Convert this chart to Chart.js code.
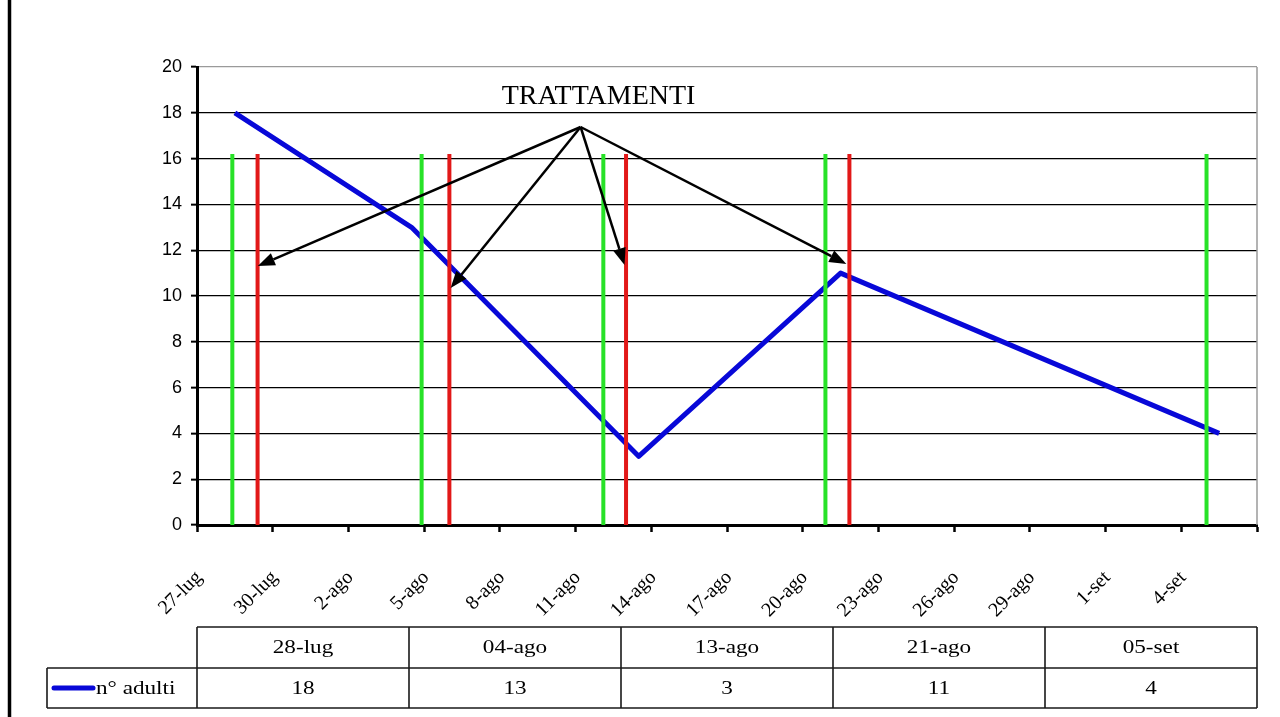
<!DOCTYPE html>
<html>
<head>
<meta charset="utf-8">
<title>n° adulti</title>
<script src="https://cdn.jsdelivr.net/npm/chart.js@4.4.0/dist/chart.umd.min.js"></script>
<style>
  html, body { margin: 0; padding: 0; background: #ffffff; }
  #wrap { width: 1280px; height: 717px; position: relative; }
  canvas { display: block; }
</style>
</head>
<body>
<div id="wrap"><canvas id="c" width="1280" height="717"></canvas></div>
<script>
// Sampling dates and adult counts
const dateLabels = ['28-lug', '04-ago', '13-ago', '21-ago', '05-set'];
const adulti = [18, 13, 3, 11, 4];
const seriesName = 'n° adulti';

// Date axis labels, one every 3 days starting 27-lug (last tick unlabeled)
const tickLabels = ['27-lug', '30-lug', '2-ago', '5-ago', '8-ago', '11-ago', '14-ago',
  '17-ago', '20-ago', '23-ago', '26-ago', '29-ago', '1-set', '4-set', ''];

// Treatments, in days after 27-lug
const trattVerde = [1.4, 8.9, 16.1, 24.9, 40.0];
const trattRosso = [2.4, 10.0, 17.0, 25.85];
const trattTop = 16.2;

// "TRATTAMENTI" note and its arrows (axis units: days, n° adulti)
const noteText = 'TRATTAMENTI';
const notePos = [15.91, 18.69];
const arrowFrom = [15.2, 17.38];
const arrowTo = [[2.41, 11.31], [10.05, 10.35], [16.94, 11.35], [25.73, 11.4]];

// day offset of a "dd-mmm" label from 27-lug
const monthStart = { lug: -27, ago: 4, set: 35 };
function dayOf(label) {
  const parts = label.split('-');
  return parseInt(parts[0], 10) + monthStart[parts[1]];
}

const BLUE = '#0808d8';
const GREEN = '#28e228';
const RED = '#e21818';

function verticalSegments(days) {
  const pts = [];
  days.forEach(d => {
    pts.push({ x: d, y: 0 });
    pts.push({ x: d, y: trattTop });
    pts.push({ x: d, y: null });
  });
  return pts;
}

const seriesPoints = dateLabels.map((d, i) => ({ x: dayOf(d) + 0.5, y: adulti[i] }));

// outer frame edge + plot right border
const framePlugin = {
  id: 'frame',
  beforeDatasetsDraw(chart) {
    const { ctx, chartArea } = chart;
    ctx.save();
    ctx.strokeStyle = '#9a9a9a';
    ctx.lineWidth = 1.5;
    ctx.beginPath();
    ctx.moveTo(chartArea.right, chartArea.top);
    ctx.lineTo(chartArea.right, chartArea.bottom);
    ctx.stroke();
    ctx.restore();
  },
  afterDraw(chart) {
    const { ctx } = chart;
    ctx.save();
    ctx.strokeStyle = '#000';
    ctx.lineWidth = 3.5;
    ctx.beginPath();
    ctx.moveTo(9.5, 0);
    ctx.lineTo(9.5, chart.height);
    ctx.stroke();
    ctx.restore();
  }
};

// note text and arrows
const notePlugin = {
  id: 'note',
  afterDatasetsDraw(chart) {
    const { ctx, scales } = chart;
    const sx = scales.x, sy = scales.y;
    ctx.save();
    ctx.font = '28px "Liberation Serif", "Times New Roman", serif';
    ctx.fillStyle = '#000';
    ctx.textAlign = 'center';
    ctx.textBaseline = 'middle';
    ctx.fillText(noteText, sx.getPixelForValue(notePos[0]), sy.getPixelForValue(notePos[1]));

    const x0 = sx.getPixelForValue(arrowFrom[0]);
    const y0 = sy.getPixelForValue(arrowFrom[1]);
    ctx.strokeStyle = '#000';
    ctx.lineWidth = 2.5;
    arrowTo.forEach(t => {
      const x1 = sx.getPixelForValue(t[0]);
      const y1 = sy.getPixelForValue(t[1]);
      const ang = Math.atan2(y1 - y0, x1 - x0);
      const head = 17, half = 6.5;
      const bx = x1 - head * Math.cos(ang), by = y1 - head * Math.sin(ang);
      ctx.beginPath();
      ctx.moveTo(x0, y0);
      ctx.lineTo(bx, by);
      ctx.stroke();
      ctx.beginPath();
      ctx.moveTo(x1, y1);
      ctx.lineTo(bx + half * Math.sin(ang), by - half * Math.cos(ang));
      ctx.lineTo(bx - half * Math.sin(ang), by + half * Math.cos(ang));
      ctx.closePath();
      ctx.fillStyle = '#000';
      ctx.fill();
    });
    ctx.restore();
  }
};

// data table under the axis
const tablePlugin = {
  id: 'dataTable',
  afterDraw(chart) {
    const { ctx, chartArea } = chart;
    const top = 627, mid = 668, bottom = 708, legLeft = 47;
    const left = chartArea.left, right = chartArea.right;
    const n = dateLabels.length;
    const colW = (right - left) / n;
    ctx.save();
    ctx.strokeStyle = '#1a1a1a';
    ctx.lineWidth = 1.6;
    ctx.beginPath();
    ctx.moveTo(left, top); ctx.lineTo(right, top);
    ctx.moveTo(legLeft, mid); ctx.lineTo(right, mid);
    ctx.moveTo(legLeft, bottom); ctx.lineTo(right, bottom);
    ctx.moveTo(legLeft, mid); ctx.lineTo(legLeft, bottom);
    for (let i = 0; i <= n; i++) {
      const x = left + i * colW;
      ctx.moveTo(x, top); ctx.lineTo(x, bottom);
    }
    ctx.stroke();

    const stretch = 1.22;
    ctx.font = '19px "Liberation Serif", "Times New Roman", serif';
    ctx.fillStyle = '#000';
    ctx.textBaseline = 'middle';
    function drawText(txt, x, y, align) {
      ctx.save();
      ctx.translate(x, y);
      ctx.scale(stretch, 1);
      ctx.textAlign = align;
      ctx.fillText(txt, 0, 0);
      ctx.restore();
    }
    for (let i = 0; i < n; i++) {
      const cx = left + (i + 0.5) * colW;
      drawText(dateLabels[i], cx, (top + mid) / 2 + 1, 'center');
      drawText(String(adulti[i]), cx, (mid + bottom) / 2 + 1, 'center');
    }
    // legend key
    const ly = (mid + bottom) / 2;
    ctx.strokeStyle = BLUE;
    ctx.lineWidth = 5;
    ctx.lineCap = 'round';
    ctx.beginPath();
    ctx.moveTo(54, ly);
    ctx.lineTo(93, ly);
    ctx.stroke();
    drawText(seriesName, 96, ly + 1, 'left');
    ctx.restore();
  }
};

Chart.defaults.font.family = '"Liberation Serif", "Times New Roman", serif';
Chart.defaults.color = '#000';

new Chart(document.getElementById('c'), {
  type: 'line',
  data: {
    datasets: [
      {
        label: 'verde',
        data: verticalSegments(trattVerde),
        borderColor: GREEN,
        borderWidth: 4,
        borderCapStyle: 'butt',
        pointRadius: 0,
        spanGaps: false,
        tension: 0
      },
      {
        label: 'rosso',
        data: verticalSegments(trattRosso),
        borderColor: RED,
        borderWidth: 4,
        borderCapStyle: 'butt',
        pointRadius: 0,
        spanGaps: false,
        tension: 0
      },
      {
        label: seriesName,
        data: seriesPoints,
        borderColor: BLUE,
        borderWidth: 5,
        borderJoinStyle: 'round',
        borderCapStyle: 'butt',
        pointRadius: 0,
        tension: 0
      }
    ]
  },
  options: {
    responsive: false,
    animation: false,
    devicePixelRatio: 1,
    layout: { padding: { top: 67, right: 23, left: 0, bottom: 0 } },
    plugins: {
      legend: { display: false },
      tooltip: { enabled: false },
      title: { display: false }
    },
    scales: {
      x: {
        type: 'linear',
        min: 0,
        max: 42,
        afterFit(scale) {
          scale.height = 192;
          scale.paddingLeft = 0;
          scale.paddingRight = 0;
        },
        afterBuildTicks(scale) {
          scale.ticks = tickLabels.map((t, i) => ({ value: i * 3 }));
        },
        ticks: {
          autoSkip: false,
          minRotation: 45,
          maxRotation: 45,
          padding: 34,
          labelOffset: 2,
          font: { size: 20, family: '"Liberation Serif", "Times New Roman", serif' },
          color: '#000',
          callback: (v) => tickLabels[Math.round(v / 3)]
        },
        grid: {
          drawOnChartArea: false,
          drawTicks: true,
          tickLength: 7,
          tickColor: '#000',
          tickWidth: 2.5,
          color: '#000'
        },
        border: { display: true, color: '#000', width: 3 }
      },
      y: {
        min: 0,
        max: 20,
        afterFit(scale) {
          scale.width = 197;
          scale.paddingTop = 0;
          scale.paddingBottom = 0;
        },
        ticks: {
          stepSize: 2,
          padding: 9,
          font: { size: 18, family: '"Liberation Sans", Arial, sans-serif' },
          color: '#000'
        },
        grid: {
          color: (c) => (c.tick && c.tick.value === 20 ? '#9a9a9a' : '#000'),
          lineWidth: 1.3,
          tickLength: 6,
          tickColor: '#000',
          tickWidth: 2
        },
        border: { display: true, color: '#000', width: 3 }
      }
    }
  },
  plugins: [framePlugin, notePlugin, tablePlugin]
});
</script>
</body>
</html>
